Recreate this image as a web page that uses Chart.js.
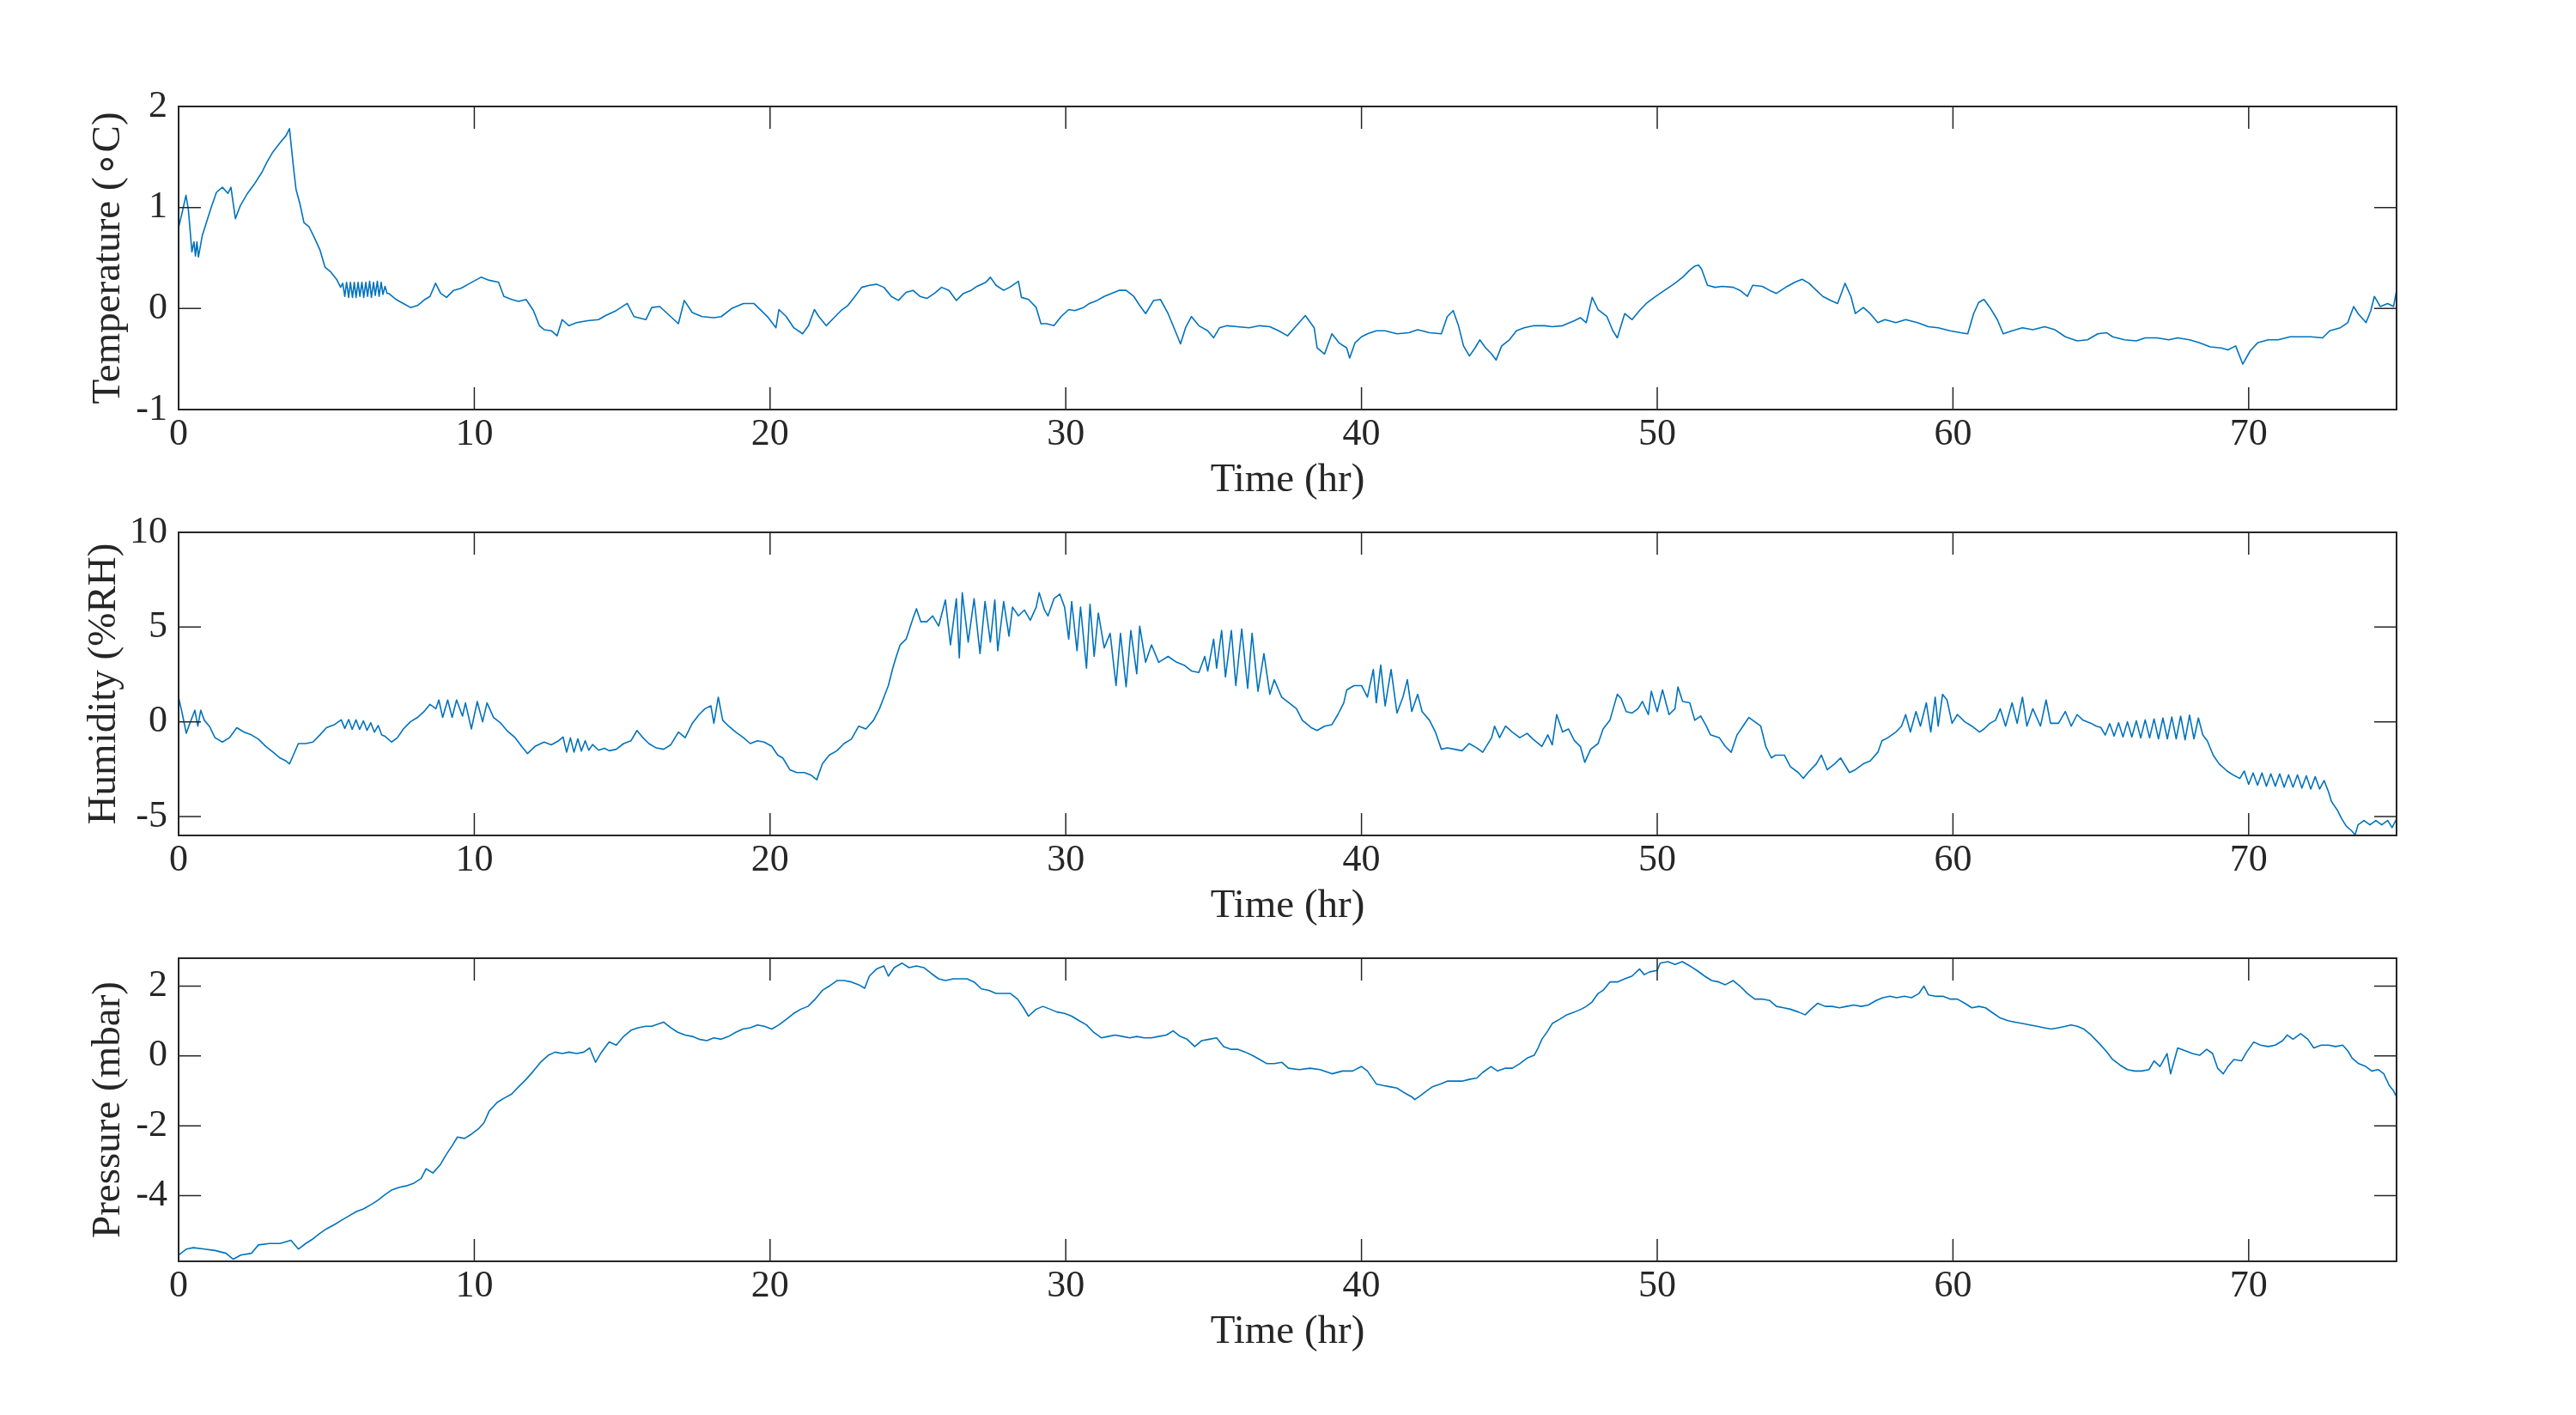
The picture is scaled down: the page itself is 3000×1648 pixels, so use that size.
<!DOCTYPE html>
<html><head><meta charset="utf-8">
<script src="https://cdn.jsdelivr.net/npm/chart.js@4.4.1/dist/chart.umd.min.js"></script>
<style>
html,body{margin:0;padding:0;background:#fff;width:3000px;height:1648px;overflow:hidden}
canvas{position:absolute;left:0}
</style></head><body>
<canvas id="c1" width="3000" height="620" style="top:0px"></canvas>
<canvas id="c2" width="3000" height="620" style="top:496px"></canvas>
<canvas id="c3" width="3000" height="620" style="top:992px"></canvas>
<script>
// ---- tick labels ----
const timeTicks = [0,10,20,30,40,50,60,70];
const tempTicks = [-1,0,1,2];
const humTicks = [-5,0,5,10];
const presTicks = [-4,-2,0,2];

// ---- series: [time (hr), value] ----
const temperature = [
[0,0.80],[0.12,0.95],[0.25,1.12],[0.33,0.98],[0.45,0.56],[0.52,0.66],[0.57,0.52],[0.62,0.66],[0.67,0.51],[0.8,0.72],
[0.94,0.85],[1.1,1.0],[1.28,1.15],[1.48,1.20],[1.67,1.14],[1.77,1.2],[1.92,0.89],[2.09,1.02],[2.33,1.14],[2.58,1.24],
[2.82,1.35],[2.99,1.45],[3.19,1.55],[3.43,1.64],[3.63,1.71],[3.75,1.78],[3.88,1.41],[3.97,1.18],[4.1,1.04],[4.24,0.85],
[4.41,0.81],[4.61,0.69],[4.78,0.58],[4.95,0.41],[5.15,0.36],[5.34,0.29],[5.48,0.21],[5.55,0.25],[5.62,0.12],[5.68,0.26],
[5.75,0.11],[5.81,0.26],[5.88,0.11],[5.94,0.26],[6.0,0.11],[6.07,0.26],[6.13,0.12],[6.2,0.26],[6.26,0.11],[6.33,0.26],
[6.39,0.12],[6.46,0.27],[6.52,0.11],[6.59,0.26],[6.65,0.13],[6.72,0.27],[6.78,0.12],[6.85,0.26],[6.91,0.14],[6.98,0.22],
[7.05,0.15],[7.1,0.15],[7.35,0.09],[7.6,0.05],[7.84,0.01],[8.08,0.03],[8.33,0.09],[8.5,0.12],[8.69,0.25],
[8.86,0.15],[9.06,0.11],[9.3,0.18],[9.55,0.2],[9.79,0.24],[10.04,0.28],[10.23,0.31],[10.5,0.28],[10.82,0.26],[11.0,0.12],
[11.26,0.09],[11.5,0.07],[11.75,0.09],[12.0,-0.02],[12.2,-0.17],[12.37,-0.21],[12.6,-0.22],[12.8,-0.27],[12.97,-0.11],[13.2,-0.17],
[13.46,-0.14],[13.83,-0.12],[14.2,-0.11],[14.44,-0.07],[14.8,-0.02],[15.17,0.05],[15.4,-0.08],[15.8,-0.11],[16.0,0.01],[16.27,0.02],
[16.64,-0.08],[16.9,-0.15],[17.1,0.08],[17.37,-0.04],[17.7,-0.08],[18.1,-0.09],[18.35,-0.08],[18.7,0.0],[19.1,0.05],[19.45,0.05],
[19.7,-0.02],[19.94,-0.09],[20.2,-0.19],[20.3,-0.01],[20.55,-0.08],[20.8,-0.19],[21.1,-0.25],[21.3,-0.17],[21.5,-0.01],[21.65,-0.08],
[21.9,-0.17],[22.1,-0.11],[22.4,-0.02],[22.63,0.03],[22.87,0.12],[23.1,0.21],[23.36,0.23],[23.6,0.24],[23.85,0.21],[24.1,0.12],
[24.34,0.08],[24.6,0.16],[24.83,0.18],[25.07,0.12],[25.3,0.1],[25.56,0.15],[25.8,0.21],[26.05,0.18],[26.3,0.08],[26.54,0.15],
[26.8,0.18],[27.0,0.22],[27.3,0.26],[27.45,0.31],[27.64,0.23],[27.9,0.18],[28.1,0.21],[28.4,0.27],[28.5,0.11],[28.74,0.09],
[29.0,0.01],[29.16,-0.15],[29.35,-0.15],[29.6,-0.17],[29.84,-0.08],[30.1,-0.01],[30.3,-0.02],[30.6,0.01],[30.8,0.05],[31.06,0.08],
[31.3,0.12],[31.55,0.15],[31.8,0.18],[32.04,0.18],[32.3,0.12],[32.5,0.03],[32.7,-0.05],[32.97,0.08],[33.2,0.09],[33.46,-0.05],
[33.7,-0.22],[33.88,-0.35],[34.05,-0.19],[34.25,-0.08],[34.5,-0.17],[34.8,-0.22],[35.0,-0.29],[35.2,-0.19],[35.46,-0.17],[35.8,-0.18],
[36.2,-0.19],[36.56,-0.17],[36.9,-0.18],[37.2,-0.22],[37.5,-0.27],[37.8,-0.17],[38.1,-0.07],[38.4,-0.19],[38.5,-0.39],[38.75,-0.45],
[39.0,-0.25],[39.24,-0.34],[39.5,-0.39],[39.6,-0.49],[39.78,-0.34],[40.0,-0.28],[40.2,-0.25],[40.5,-0.22],[40.8,-0.22],[41.2,-0.25],
[41.6,-0.24],[41.9,-0.21],[42.3,-0.24],[42.7,-0.25],[42.9,-0.08],[43.1,-0.02],[43.28,-0.17],[43.45,-0.37],[43.65,-0.47],[43.84,-0.39],
[44.0,-0.31],[44.2,-0.39],[44.4,-0.45],[44.55,-0.51],[44.74,-0.37],[45.0,-0.31],[45.24,-0.22],[45.5,-0.19],[45.84,-0.17],[46.2,-0.17],
[46.45,-0.18],[46.8,-0.17],[47.2,-0.12],[47.4,-0.09],[47.6,-0.14],[47.8,0.11],[48.0,-0.01],[48.3,-0.08],[48.5,-0.22],[48.65,-0.29],
[48.9,-0.05],[49.15,-0.11],[49.4,-0.02],[49.63,0.05],[49.9,0.11],[50.1,0.15],[50.4,0.21],[50.6,0.25],[50.86,0.31],[51.1,0.38],
[51.27,0.42],[51.4,0.43],[51.5,0.39],[51.7,0.23],[51.96,0.21],[52.2,0.22],[52.57,0.21],[52.8,0.18],[53.05,0.12],[53.23,0.23],
[53.55,0.22],[53.8,0.18],[54.03,0.15],[54.4,0.22],[54.65,0.26],[54.9,0.29],[55.13,0.25],[55.38,0.18],[55.6,0.12],[55.87,0.08],
[56.1,0.05],[56.35,0.25],[56.55,0.12],[56.7,-0.05],[56.97,0.01],[57.2,-0.05],[57.46,-0.14],[57.7,-0.11],[58.07,-0.14],[58.4,-0.11],
[58.8,-0.14],[59.17,-0.18],[59.5,-0.19],[59.9,-0.22],[60.26,-0.24],[60.5,-0.25],[60.7,-0.05],[60.87,0.06],[61.05,0.09],[61.25,0.01],
[61.5,-0.11],[61.7,-0.25],[62.0,-0.22],[62.35,-0.19],[62.7,-0.21],[63.1,-0.18],[63.45,-0.21],[63.8,-0.28],[64.2,-0.32],[64.55,-0.31],
[64.9,-0.25],[65.2,-0.24],[65.4,-0.28],[65.8,-0.31],[66.2,-0.32],[66.5,-0.29],[66.9,-0.29],[67.3,-0.31],[67.6,-0.29],[68.0,-0.31],
[68.34,-0.34],[68.7,-0.38],[69.07,-0.39],[69.3,-0.41],[69.56,-0.37],[69.8,-0.55],[70.05,-0.42],[70.3,-0.34],[70.66,-0.31],[71.0,-0.31],
[71.4,-0.28],[71.76,-0.28],[72.1,-0.28],[72.5,-0.29],[72.74,-0.22],[73.1,-0.19],[73.35,-0.14],[73.55,0.02],[73.7,-0.05],[73.97,-0.14],
[74.13,-0.02],[74.25,0.12],[74.45,0.02],[74.7,0.05],[74.9,0.02],[75.0,0.18]
];

const humidity = [
[0,1.3],[0.13,0.38],[0.26,-0.61],[0.38,-0.08],[0.55,0.61],[0.65,-0.23],[0.75,0.61],[0.87,0.08],[1.04,-0.23],[1.23,-0.84],
[1.48,-1.07],[1.72,-0.84],[1.97,-0.31],[2.2,-0.54],[2.46,-0.69],[2.7,-0.92],[2.95,-1.3],[3.19,-1.6],[3.43,-1.91],[3.63,-2.07],
[3.75,-2.22],[3.88,-1.76],[4.05,-1.15],[4.3,-1.15],[4.54,-1.07],[4.78,-0.69],[5.0,-0.31],[5.27,-0.15],[5.5,0.1],[5.62,-0.35],
[5.75,0.12],[5.87,-0.4],[6.0,0.1],[6.12,-0.4],[6.25,0.05],[6.37,-0.45],[6.5,-0.05],[6.62,-0.55],[6.75,-0.2],[6.87,-0.7],
[6.98,-0.77],[7.2,-1.07],[7.4,-0.84],[7.6,-0.38],[7.84,0.0],[8.08,0.23],[8.3,0.54],[8.5,0.92],[8.7,0.69],[8.8,1.15],
[8.93,0.23],[9.1,1.15],[9.25,0.23],[9.4,1.15],[9.6,0.3],[9.7,1.0],[9.9,-0.38],[10.1,1.07],[10.28,0.0],[10.43,1.0],
[10.65,0.23],[10.9,-0.08],[11.1,-0.46],[11.38,-0.84],[11.6,-1.3],[11.8,-1.68],[12.05,-1.3],[12.36,-1.07],[12.6,-1.22],[12.85,-1.0],
[13.0,-0.8],[13.12,-1.6],[13.25,-0.85],[13.37,-1.6],[13.5,-0.9],[13.62,-1.55],[13.75,-1.0],[13.87,-1.5],[14.0,-1.2],[14.2,-1.5],
[14.4,-1.4],[14.56,-1.53],[14.8,-1.45],[15.05,-1.15],[15.3,-1.0],[15.5,-0.46],[15.66,-0.77],[15.9,-1.15],[16.15,-1.38],[16.4,-1.45],
[16.64,-1.22],[16.9,-0.54],[17.13,-0.84],[17.37,-0.08],[17.6,0.38],[17.8,0.69],[18.0,0.84],[18.1,-0.08],[18.25,1.3],[18.4,0.08],
[18.6,-0.23],[18.84,-0.54],[19.1,-0.84],[19.33,-1.15],[19.57,-1.0],[19.8,-1.07],[20.06,-1.3],[20.26,-1.76],[20.43,-1.91],[20.67,-2.53],
[20.9,-2.68],[21.16,-2.68],[21.4,-2.83],[21.58,-3.06],[21.77,-2.22],[22.0,-1.76],[22.26,-1.53],[22.5,-1.15],[22.75,-0.92],[23.0,-0.23],
[23.24,-0.38],[23.5,0.08],[23.7,0.69],[23.85,1.3],[24.0,1.91],[24.15,2.83],[24.27,3.45],[24.4,4.06],[24.6,4.36],[24.7,4.82],
[24.83,5.44],[24.95,5.97],[25.1,5.28],[25.3,5.28],[25.5,5.59],[25.7,5.05],[25.93,6.43],[26.1,4.06],[26.3,6.5],[26.4,3.37],
[26.5,6.81],[26.7,4.2],[26.9,6.5],[27.1,3.6],[27.27,6.35],[27.45,4.2],[27.6,6.43],[27.7,3.75],[27.9,6.35],[28.08,4.52],
[28.2,6.05],[28.4,5.59],[28.6,5.9],[28.8,5.36],[29.0,6.05],[29.1,6.81],[29.28,5.9],[29.4,5.59],[29.6,6.5],[29.8,6.74],
[29.96,6.05],[30.1,4.36],[30.2,6.35],[30.38,3.75],[30.5,6.05],[30.7,2.83],[30.82,6.2],[30.96,3.45],[31.1,5.74],[31.3,3.9],
[31.5,4.67],[31.7,1.91],[31.85,4.67],[32.04,1.84],[32.2,4.82],[32.4,2.53],[32.5,5.05],[32.7,3.14],[32.9,4.06],[33.14,3.14],
[33.46,3.45],[33.75,3.14],[34.0,2.99],[34.25,2.68],[34.5,2.6],[34.7,3.45],[34.8,2.68],[35.0,4.36],[35.1,2.83],[35.27,4.82],
[35.4,2.37],[35.6,4.82],[35.75,1.91],[35.95,4.9],[36.15,1.76],[36.3,4.67],[36.5,1.61],[36.7,3.6],[36.9,1.45],[37.05,2.22],
[37.3,1.3],[37.55,1.0],[37.8,0.69],[38.0,0.08],[38.3,-0.31],[38.5,-0.46],[38.75,-0.23],[39.0,-0.15],[39.2,0.38],[39.4,1.0],
[39.5,1.68],[39.75,1.91],[40.0,1.91],[40.2,1.3],[40.4,2.76],[40.5,1.0],[40.65,2.99],[40.8,0.84],[41.0,2.76],[41.2,0.46],
[41.4,1.3],[41.55,2.22],[41.7,0.54],[41.9,1.45],[42.05,0.54],[42.3,0.08],[42.5,-0.54],[42.7,-1.45],[42.9,-1.38],[43.15,-1.45],
[43.4,-1.53],[43.64,-1.15],[43.9,-1.38],[44.1,-1.61],[44.4,-0.84],[44.5,-0.23],[44.67,-0.84],[44.87,-0.23],[45.1,-0.54],[45.35,-0.84],
[45.6,-0.61],[45.8,-0.92],[46.1,-1.3],[46.3,-0.69],[46.45,-1.22],[46.6,0.38],[46.8,-0.54],[47.0,-0.38],[47.2,-1.0],[47.4,-1.3],
[47.55,-2.14],[47.75,-1.45],[48.0,-1.15],[48.17,-0.38],[48.4,0.08],[48.65,1.45],[48.78,1.23],[48.95,0.54],[49.15,0.46],[49.35,0.69],
[49.5,1.07],[49.7,0.38],[49.8,1.61],[50.0,0.54],[50.18,1.68],[50.4,0.38],[50.6,0.69],[50.7,1.84],[50.86,1.07],[51.1,1.0],
[51.27,0.08],[51.47,0.31],[51.66,-0.23],[51.8,-0.69],[52.1,-0.84],[52.3,-1.3],[52.5,-1.61],[52.7,-0.69],[52.9,-0.23],[53.1,0.23],
[53.3,0.0],[53.5,-0.23],[53.67,-1.3],[53.86,-1.91],[54.0,-1.76],[54.3,-1.76],[54.5,-2.37],[54.77,-2.68],[54.94,-2.99],[55.1,-2.68],
[55.38,-2.22],[55.55,-1.76],[55.75,-2.53],[56.0,-2.22],[56.2,-1.91],[56.5,-2.68],[56.7,-2.53],[56.97,-2.22],[57.2,-2.07],[57.46,-1.61],
[57.6,-1.0],[57.8,-0.84],[58.07,-0.54],[58.26,-0.23],[58.4,0.38],[58.56,-0.54],[58.75,0.54],[58.9,-0.23],[59.1,1.0],[59.25,-0.54],
[59.4,1.3],[59.5,-0.23],[59.65,1.45],[59.8,1.15],[59.97,-0.08],[60.15,0.38],[60.4,0.0],[60.64,-0.23],[60.9,-0.54],[61.05,-0.38],
[61.25,-0.08],[61.44,0.08],[61.6,0.69],[61.78,-0.23],[62.0,1.0],[62.17,-0.08],[62.35,1.3],[62.5,-0.23],[62.7,0.69],[62.96,-0.23],
[63.15,1.15],[63.3,-0.08],[63.57,-0.08],[63.8,0.54],[64.0,-0.23],[64.2,0.38],[64.4,0.08],[64.67,-0.08],[64.85,-0.23],[65.0,-0.3],
[65.15,-0.7],[65.3,-0.1],[65.45,-0.75],[65.6,-0.05],[65.75,-0.8],[65.9,0.0],[66.05,-0.8],[66.2,0.05],[66.35,-0.85],[66.5,0.1],
[66.65,-0.85],[66.8,0.15],[66.95,-0.9],[67.1,0.2],[67.25,-0.9],[67.4,0.25],[67.55,-0.9],[67.7,0.3],[67.85,-0.95],[68.0,0.35],
[68.15,-0.9],[68.3,0.2],[68.45,-0.7],[68.6,-1.0],[68.8,-1.76],[69.0,-2.22],[69.27,-2.6],[69.5,-2.83],[69.7,-2.99],[69.85,-2.6],
[70.0,-3.3],[70.15,-2.7],[70.3,-3.35],[70.45,-2.7],[70.6,-3.4],[70.75,-2.75],[70.9,-3.4],[71.05,-2.75],[71.2,-3.45],[71.35,-2.8],
[71.5,-3.45],[71.65,-2.8],[71.8,-3.5],[71.95,-2.85],[72.1,-3.55],[72.25,-2.9],[72.4,-3.55],[72.55,-3.1],[72.7,-3.7],[72.8,-4.21],
[73.0,-4.67],[73.15,-5.13],[73.3,-5.51],[73.47,-5.74],[73.6,-5.97],[73.7,-5.44],[73.9,-5.21],[74.1,-5.44],[74.3,-5.21],[74.5,-5.44],
[74.7,-5.21],[74.85,-5.59],[75.0,-5.13]
];

const pressure = [
[0,-5.7],[0.26,-5.53],[0.5,-5.49],[0.87,-5.53],[1.23,-5.57],[1.6,-5.65],[1.85,-5.82],[2.1,-5.7],[2.46,-5.65],[2.7,-5.41],
[3.07,-5.37],[3.43,-5.37],[3.8,-5.28],[4.05,-5.53],[4.3,-5.37],[4.54,-5.24],[4.78,-5.08],[5.0,-4.95],[5.27,-4.83],[5.5,-4.71],
[5.76,-4.58],[6.0,-4.46],[6.25,-4.38],[6.5,-4.26],[6.74,-4.13],[6.98,-3.97],[7.2,-3.84],[7.47,-3.76],[7.7,-3.72],[7.96,-3.64],
[8.2,-3.51],[8.37,-3.23],[8.6,-3.35],[8.86,-3.1],[9.06,-2.81],[9.25,-2.57],[9.43,-2.32],[9.67,-2.36],[9.9,-2.24],[10.16,-2.07],
[10.33,-1.91],[10.5,-1.58],[10.77,-1.33],[11.0,-1.21],[11.26,-1.09],[11.5,-0.88],[11.75,-0.67],[12.0,-0.43],[12.24,-0.18],[12.5,0.02],
[12.73,0.11],[12.97,0.07],[13.2,0.11],[13.46,0.07],[13.7,0.11],[13.9,0.23],[14.1,-0.18],[14.3,0.11],[14.56,0.4],[14.8,0.31],
[15.05,0.56],[15.3,0.74],[15.54,0.81],[15.8,0.85],[16.0,0.85],[16.27,0.93],[16.4,0.97],[16.64,0.81],[16.88,0.68],[17.13,0.6],
[17.37,0.56],[17.6,0.48],[17.86,0.44],[18.1,0.52],[18.35,0.48],[18.6,0.56],[18.84,0.68],[19.08,0.77],[19.33,0.81],[19.57,0.89],
[19.8,0.85],[20.06,0.77],[20.3,0.89],[20.55,1.05],[20.8,1.22],[21.04,1.34],[21.28,1.42],[21.53,1.63],[21.77,1.88],[22.0,2.0],
[22.26,2.16],[22.5,2.16],[22.75,2.12],[23.0,2.04],[23.2,1.94],[23.36,2.29],[23.6,2.49],[23.85,2.58],[24.0,2.29],[24.2,2.53],
[24.46,2.66],[24.7,2.53],[24.95,2.58],[25.2,2.53],[25.44,2.37],[25.7,2.21],[25.93,2.16],[26.2,2.21],[26.42,2.21],[26.66,2.21],
[26.9,2.12],[27.15,1.92],[27.4,1.88],[27.64,1.79],[27.9,1.79],[28.13,1.79],[28.37,1.63],[28.57,1.38],[28.74,1.14],[29.0,1.34],
[29.23,1.42],[29.47,1.34],[29.7,1.26],[29.96,1.22],[30.2,1.14],[30.45,1.01],[30.7,0.89],[30.94,0.68],[31.2,0.52],[31.43,0.56],
[31.67,0.6],[31.92,0.56],[32.16,0.52],[32.4,0.56],[32.65,0.52],[32.9,0.52],[33.14,0.56],[33.4,0.6],[33.63,0.72],[33.87,0.56],
[34.1,0.48],[34.36,0.27],[34.6,0.44],[34.85,0.48],[35.1,0.52],[35.34,0.27],[35.6,0.19],[35.83,0.19],[36.07,0.11],[36.3,0.02],
[36.56,-0.1],[36.8,-0.22],[37.05,-0.22],[37.3,-0.18],[37.53,-0.35],[37.9,-0.39],[38.26,-0.35],[38.6,-0.39],[39.0,-0.51],[39.36,-0.43],
[39.7,-0.43],[40.0,-0.3],[40.2,-0.43],[40.5,-0.8],[40.7,-0.84],[40.95,-0.88],[41.2,-0.92],[41.44,-1.05],[41.7,-1.17],[41.8,-1.25],
[42.0,-1.13],[42.2,-1.0],[42.4,-0.88],[42.67,-0.8],[42.9,-0.72],[43.15,-0.72],[43.4,-0.72],[43.64,-0.67],[43.9,-0.63],[44.1,-0.47],
[44.38,-0.3],[44.6,-0.43],[44.87,-0.35],[45.1,-0.35],[45.35,-0.22],[45.6,-0.06],[45.84,0.02],[45.97,0.23],[46.1,0.48],[46.3,0.72],
[46.45,0.93],[46.7,1.05],[46.94,1.18],[47.2,1.26],[47.43,1.34],[47.6,1.42],[47.8,1.55],[48.0,1.79],[48.17,1.88],[48.4,2.12],
[48.65,2.12],[48.9,2.21],[49.15,2.29],[49.4,2.49],[49.56,2.33],[49.75,2.41],[50.0,2.45],[50.1,2.66],[50.36,2.7],[50.6,2.62],
[50.85,2.7],[51.1,2.58],[51.34,2.45],[51.6,2.29],[51.84,2.16],[52.08,2.12],[52.3,2.04],[52.57,2.16],[52.8,2.0],[53.05,1.79],
[53.3,1.63],[53.55,1.63],[53.8,1.59],[54.03,1.42],[54.28,1.38],[54.5,1.34],[54.77,1.26],[55.0,1.18],[55.2,1.34],[55.43,1.51],
[55.68,1.42],[55.92,1.42],[56.16,1.38],[56.4,1.42],[56.65,1.46],[56.9,1.42],[57.14,1.46],[57.4,1.59],[57.63,1.67],[57.87,1.71],
[58.1,1.67],[58.36,1.71],[58.6,1.67],[58.85,1.79],[59.02,2.0],[59.17,1.75],[59.4,1.71],[59.66,1.71],[59.9,1.63],[60.15,1.63],
[60.4,1.51],[60.64,1.38],[60.88,1.42],[61.1,1.38],[61.37,1.22],[61.6,1.09],[61.86,1.01],[62.1,0.97],[62.35,0.93],[62.6,0.89],
[62.84,0.85],[63.08,0.81],[63.33,0.77],[63.57,0.81],[63.8,0.85],[64.0,0.89],[64.2,0.85],[64.43,0.77],[64.67,0.6],[64.9,0.4],
[65.17,0.15],[65.4,-0.1],[65.65,-0.26],[65.9,-0.39],[66.14,-0.43],[66.38,-0.43],[66.63,-0.39],[66.8,-0.14],[67.0,-0.3],[67.24,0.07],
[67.36,-0.51],[67.6,0.23],[67.85,0.15],[68.1,0.07],[68.34,0.02],[68.58,0.19],[68.78,0.07],[68.95,-0.35],[69.14,-0.51],[69.3,-0.3],
[69.5,-0.1],[69.76,-0.14],[69.93,0.11],[70.17,0.4],[70.4,0.31],[70.66,0.27],[70.9,0.31],[71.15,0.44],[71.3,0.6],[71.5,0.48],
[71.76,0.64],[72.0,0.48],[72.2,0.23],[72.45,0.31],[72.7,0.31],[72.94,0.27],[73.18,0.31],[73.35,0.15],[73.5,-0.06],[73.72,-0.22],
[73.96,-0.3],[74.16,-0.43],[74.38,-0.39],[74.57,-0.51],[74.75,-0.84],[74.9,-1.0],[75.0,-1.17]
];

const FONT = "'Liberation Serif', 'Times New Roman', serif";
const TXT = '#262626';
const LINE = '#0072BD';
const FS_TICK = 44;
const FS_TITLE = 47;

const boxPlugin = {
  id: 'matlabBox',
  afterDraw(chart) {
    const ctx = chart.ctx, a = chart.chartArea;
    const xs = chart.scales.x, ys = chart.scales.y, L = 26;
    ctx.save();
    ctx.strokeStyle = TXT;
    ctx.lineWidth = 1.5;
    ctx.beginPath();
    xs.ticks.forEach(t => {
      const px = xs.getPixelForValue(t.value);
      ctx.moveTo(px, a.bottom); ctx.lineTo(px, a.bottom - L);
      ctx.moveTo(px, a.top); ctx.lineTo(px, a.top + L);
    });
    ys.ticks.forEach(t => {
      const py = ys.getPixelForValue(t.value);
      ctx.moveTo(a.left, py); ctx.lineTo(a.left + L, py);
      ctx.moveTo(a.right, py); ctx.lineTo(a.right - L, py);
    });
    ctx.stroke();
    ctx.lineWidth = 2;
    ctx.strokeRect(a.left, a.top, a.right - a.left, a.bottom - a.top);
    ctx.restore();
  }
};

function makeChart(id, series, yTicks, yMin, yMax, yTitle, yTitlePad) {
  return new Chart(document.getElementById(id), {
    type: 'line',
    data: { datasets: [{
      data: series.map(p => ({x: p[0], y: p[1]})),
      borderColor: LINE, borderWidth: 1.6, pointRadius: 0, tension: 0,
      borderJoinStyle: 'round', fill: false
    }]},
    options: {
      responsive: false, animation: false, devicePixelRatio: 1, events: [],
      layout: { padding: { left: 0, right: 209, top: 124, bottom: 0 } },
      plugins: { legend: { display: false }, tooltip: { enabled: false } },
      scales: {
        x: {
          type: 'linear', min: 0, max: 75,
          afterBuildTicks: s => { s.ticks = timeTicks.map(v => ({value: v})); },
          afterFit: s => { s.height = 143; },
          grid: { display: false, drawTicks: false, tickLength: 0 },
          border: { display: false },
          ticks: { color: TXT, font: { family: FONT, size: FS_TICK }, padding: 3, maxRotation: 0,
                   callback: v => String(v) },
          title: { display: true, text: 'Time (hr)', color: TXT,
                   font: { family: FONT, size: FS_TITLE }, padding: { top: 0, bottom: 32 } }
        },
        y: {
          type: 'linear', min: yMin, max: yMax,
          afterBuildTicks: s => { s.ticks = yTicks.map(v => ({value: v})); },
          afterFit: s => { s.width = 208; },
          grid: { display: false, drawTicks: false, tickLength: 0 },
          border: { display: false },
          ticks: { color: TXT, font: { family: FONT, size: FS_TICK }, padding: 13,
                   callback: v => String(v) },
          title: { display: true, text: yTitle, color: TXT,
                   font: { family: FONT, size: FS_TITLE }, padding: { top: yTitlePad, bottom: 0 } }
        }
      }
    },
    plugins: [boxPlugin]
  });
}

makeChart('c1', temperature, tempTicks, -1, 2, 'Temperature (\u2218C)', 98);
makeChart('c2', humidity, humTicks, -6, 10, 'Humidity (%RH)', 93);
makeChart('c3', pressure, presTicks, -5.88, 2.8, 'Pressure (mbar)', 98);
</script>
</body></html>
